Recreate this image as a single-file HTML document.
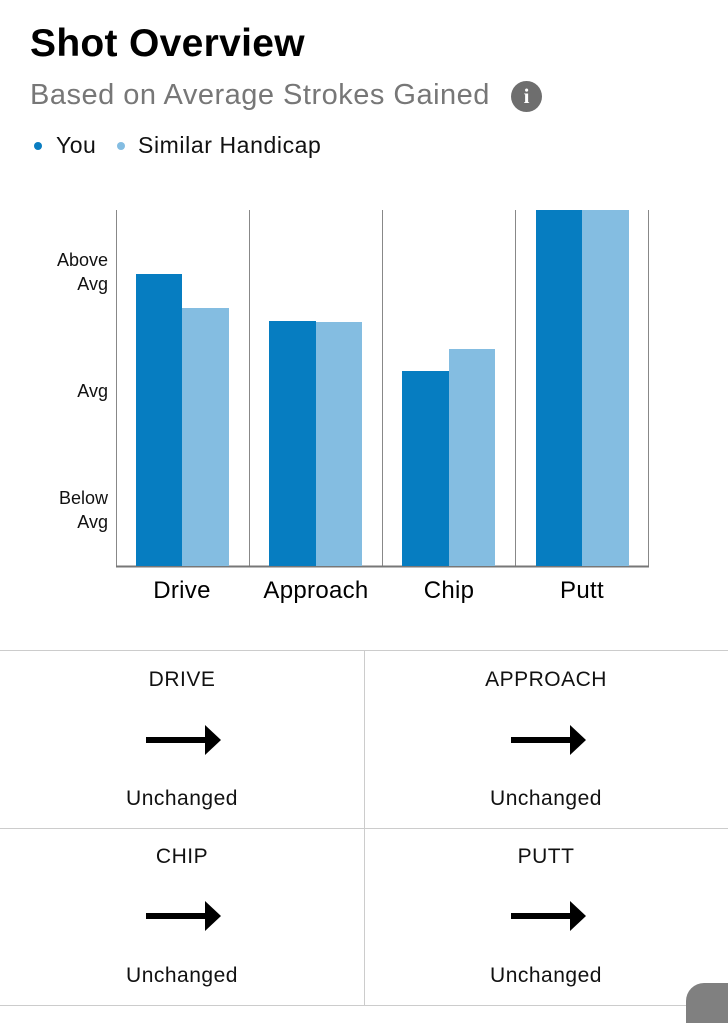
<!DOCTYPE html>
<html><head><style>
body{margin:0;width:728px;height:1023px;background:#fff;font-family:"Liberation Sans",sans-serif;position:relative;overflow:hidden}
.a{position:absolute}
.t{font-size:21px;color:#111;text-align:center;width:364px;letter-spacing:0.5px}
</style></head><body>
<div class="a" style="left:30px;top:22px;font-size:39px;font-weight:bold;color:#000;letter-spacing:0.3px">Shot Overview</div>
<div class="a" style="left:30px;top:79px;font-size:29px;color:#777;letter-spacing:0.5px">Based on Average Strokes Gained</div>
<div class="a" style="left:511px;top:81px;width:31px;height:31px;border-radius:50%;background:#6e6e6e;color:#fff;font-weight:bold;font-size:21px;text-align:center;line-height:31px;font-family:'Liberation Serif',serif">i</div>
<div class="a" style="left:34px;top:142px;width:8px;height:8px;border-radius:50%;background:#0a7dc1"></div>
<div class="a" style="left:56px;top:132px;font-size:23px;color:#111;letter-spacing:0.5px">You</div>
<div class="a" style="left:117px;top:142px;width:8px;height:8px;border-radius:50%;background:#84bde2"></div>
<div class="a" style="left:138px;top:132px;font-size:23px;color:#111;letter-spacing:0.6px">Similar Handicap</div>
<svg class="a" style="left:0;top:0" width="728" height="640">
<g stroke="#888" stroke-width="1"><line x1="116.5" y1="210" x2="116.5" y2="566"/><line x1="249.5" y1="210" x2="249.5" y2="566"/><line x1="382.5" y1="210" x2="382.5" y2="566"/><line x1="515.5" y1="210" x2="515.5" y2="566"/><line x1="648.5" y1="210" x2="648.5" y2="566"/></g>
<line x1="116" y1="566.5" x2="649" y2="566.5" stroke="#777" stroke-width="2"/>
<g fill="#067dc1"><rect x="136" y="274" width="46" height="292"/><rect x="269" y="321" width="47" height="245"/><rect x="402" y="371" width="47" height="195"/><rect x="536" y="210" width="46" height="356"/></g>
<g fill="#84bde1"><rect x="182" y="308" width="47" height="258"/><rect x="316" y="322" width="46" height="244"/><rect x="449" y="349" width="46" height="217"/><rect x="582" y="210" width="47" height="356"/></g>
<g font-size="18" fill="#111" text-anchor="end" font-family="Liberation Sans"><text x="108" y="266">Above</text><text x="108" y="290">Avg</text><text x="108" y="397">Avg</text><text x="108" y="504">Below</text><text x="108" y="528">Avg</text></g>
<g font-size="24" fill="#000" text-anchor="middle" font-family="Liberation Sans" letter-spacing="0.3"><text x="182" y="598">Drive</text><text x="316" y="598">Approach</text><text x="449" y="598">Chip</text><text x="582" y="598">Putt</text></g>
</svg>
<div class="a" style="left:0;top:650px;width:728px;height:1px;background:#ccc"></div>
<div class="a" style="left:0;top:828px;width:728px;height:1px;background:#ccc"></div>
<div class="a" style="left:0;top:1005px;width:728px;height:1px;background:#ccc"></div>
<div class="a" style="left:364px;top:650px;width:1px;height:355px;background:#ccc"></div>
<div class="a t" style="left:0;top:668px">DRIVE</div>
<div class="a t" style="left:364px;top:668px">APPROACH</div>
<div class="a t" style="left:0;top:845px">CHIP</div>
<div class="a t" style="left:364px;top:845px">PUTT</div>
<div class="a t" style="left:0;top:787px">Unchanged</div>
<div class="a t" style="left:364px;top:787px">Unchanged</div>
<div class="a t" style="left:0;top:964px">Unchanged</div>
<div class="a t" style="left:364px;top:964px">Unchanged</div>
<svg class="a" style="left:0;top:0" width="728" height="1023">
<defs><path id="ar" d="M0,-3 H59 V-15 L75,0 L59,15 V3 H0 Z" fill="#000"/></defs>
<use href="#ar" x="146" y="740"/><use href="#ar" x="511" y="740"/><use href="#ar" x="146" y="916"/><use href="#ar" x="511" y="916"/>
<rect x="686" y="983" width="60" height="60" rx="18" fill="#808080"/>
</svg>
</body></html>
